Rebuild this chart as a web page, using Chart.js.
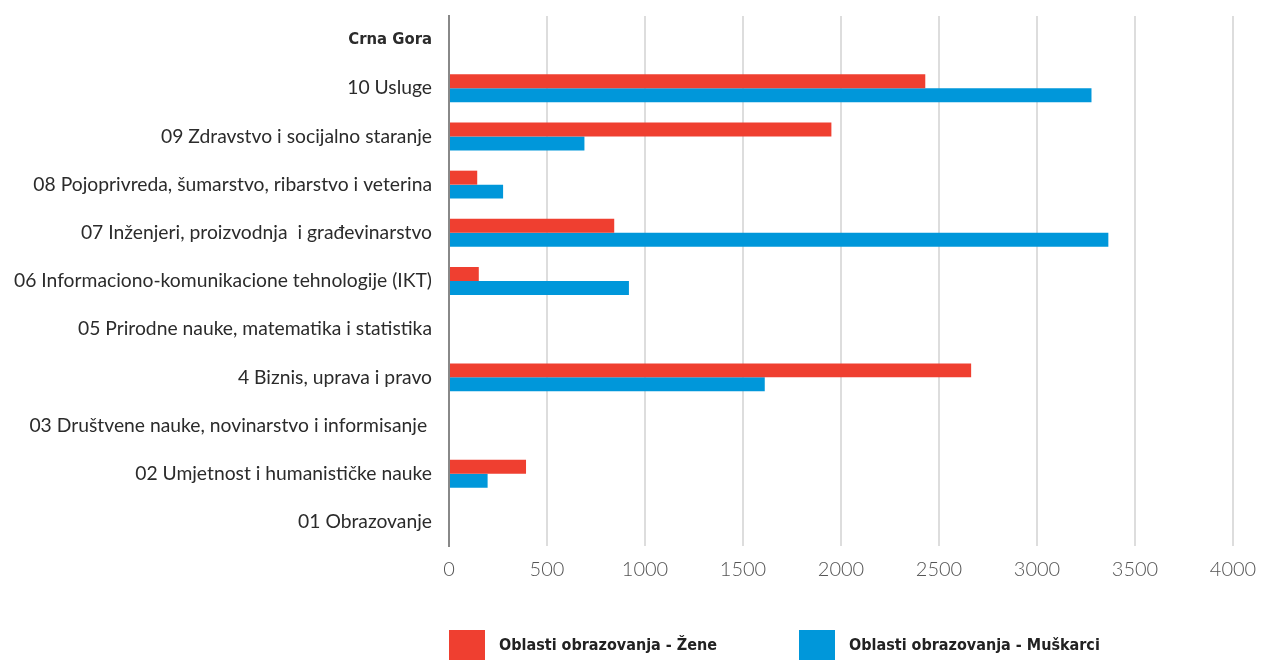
<!DOCTYPE html>
<html>
<head>
<meta charset="utf-8">
<script src="https://cdn.jsdelivr.net/npm/chart.js@4.4.1/dist/chart.umd.min.js"></script>
<style>
  html, body { margin: 0; padding: 0; background: #ffffff; }
  #wrap { width: 1261px; height: 660px; position: relative; }
</style>
</head>
<body>
<div id="wrap"><canvas id="chart"></canvas></div>
<script>
// Education fields (top to bottom)
const categories = [
  'Crna Gora',
  '10 Usluge',
  '09 Zdravstvo i socijalno staranje',
  '08 Pojoprivreda, šumarstvo, ribarstvo i veterina',
  '07 Inženjeri, proizvodnja  i građevinarstvo',
  '06 Informaciono-komunikacione tehnologije (IKT)',
  '05 Prirodne nauke, matematika i statistika',
  '4 Biznis, uprava i pravo',
  '03 Društvene nauke, novinarstvo i informisanje ',
  '02 Umjetnost i humanističke nauke',
  '01 Obrazovanje'
];

const seriesNames = ['Oblasti obrazovanja - Žene', 'Oblasti obrazovanja - Muškarci'];

const zene     = [null, 2430, 1951, 144,  843, 152, null, 2664, null, 393, null];
const muskarci = [null, 3278,  691, 276, 3364, 918, null, 1611, null, 197, null];

const xTicks = [0, 500, 1000, 1500, 2000, 2500, 3000, 3500, 4000];

const RED = '#EF3F30';
const BLUE = '#0097DA';
const CONDENSED = "'Liberation Sans Narrow', 'DejaVu Sans Condensed', sans-serif";

// Legend drawn below the plot, left-aligned with the value axis
const bottomLegend = {
  id: 'bottomLegend',
  afterDraw(chart) {
    const ctx = chart.ctx;
    const left = chart.chartArea.left;
    const offsets = [0, 350];
    ctx.save();
    ctx.font = 'bold 16px ' + CONDENSED;
    ctx.textBaseline = 'middle';
    chart.data.datasets.forEach((ds, i) => {
      const x = left + offsets[i];
      ctx.fillStyle = ds.backgroundColor;
      ctx.fillRect(x, 630, 36, 30);
      ctx.fillStyle = '#222222';
      ctx.fillText(ds.label, x + 50, 646);
    });
    ctx.restore();
  }
};

new Chart(document.getElementById('chart'), {
  type: 'bar',
  data: {
    labels: categories,
    datasets: [
      { label: seriesNames[0], data: zene, backgroundColor: RED },
      { label: seriesNames[1], data: muskarci, backgroundColor: BLUE }
    ]
  },
  options: {
    indexAxis: 'y',
    responsive: true,
    maintainAspectRatio: false,
    animation: false,
    layout: { padding: { top: 16, right: 28, bottom: 66, left: 0 } },
    datasets: {
      bar: { barPercentage: 1.0, categoryPercentage: 0.58 }
    },
    plugins: {
      legend: { display: false },
      tooltip: { enabled: false }
    },
    scales: {
      x: {
        min: 0,
        max: 4000,
        afterBuildTicks(scale) { scale.ticks = xTicks.map(v => ({ value: v })); },
        afterFit(scale) {
          scale.paddingLeft = 0;
          scale.paddingRight = 0;
        },
        grid: { color: '#dddddd', lineWidth: 2, drawTicks: false },
        border: { display: false },
        ticks: {
          color: '#555555',
          padding: 12,
          font: { family: 'Lato', size: 20, weight: '300' },
          callback: (v) => String(v)
        }
      },
      y: {
        afterFit(scale) {
          scale.width = 449;
          scale.paddingTop = 0;
          scale.paddingBottom = 0;
        },
        grid: { display: false, drawTicks: false },
        border: { display: true, color: '#888888', width: 2 },
        ticks: {
          color: '#2b2b2b',
          padding: 17,
          autoSkip: false,
          font: (c) => c.index === 0
            ? { family: CONDENSED, size: 16.5, weight: 'bold' }
            : { family: 'Lato', size: 19.3, weight: 'normal' }
        }
      }
    }
  },
  plugins: [bottomLegend]
});
</script>
</body>
</html>
